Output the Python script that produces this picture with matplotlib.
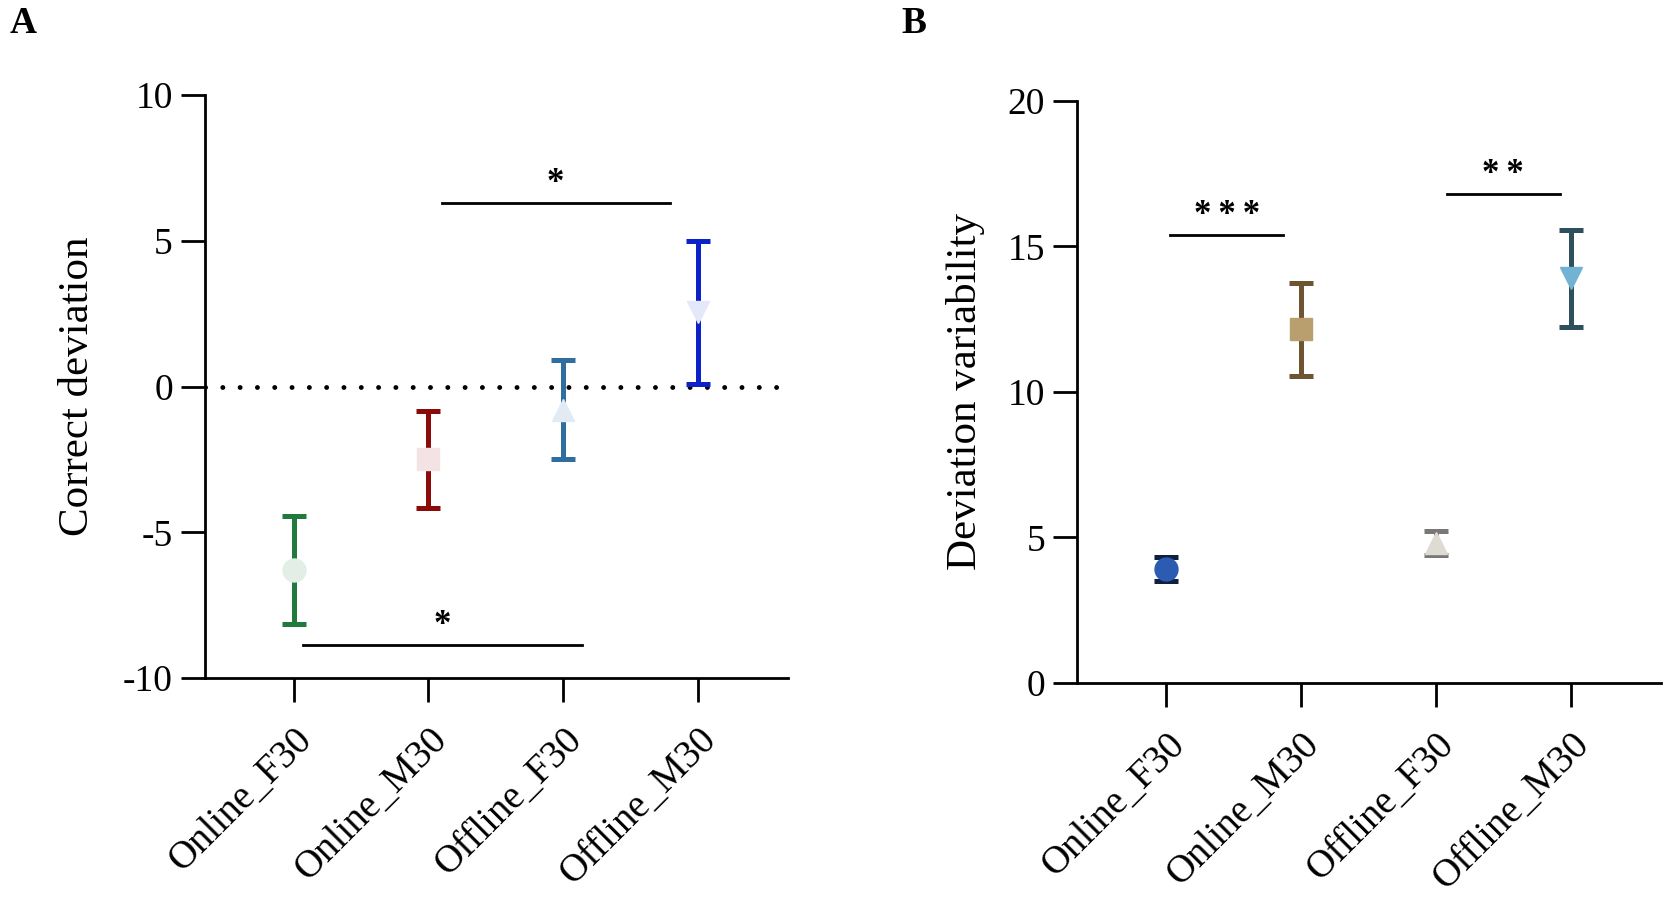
import matplotlib
matplotlib.use('Agg')
from matplotlib import pyplot as plt

plt.rcParams['font.family'] = ['Liberation Serif', 'DejaVu Serif']

groups = ['Online_F30', 'Online_M30', 'Offline_F30', 'Offline_M30']
markers = ['o', 's', '^', 'v']

# panel A: correct deviation (mean, sem)
dev_mean = [-6.3, -2.5, -0.8, 2.55]
dev_err = [1.85, 1.67, 1.7, 2.45]
dev_face = ['#e3efe6', '#f3e3e4', '#e2ebf3', '#e4e8fa']
dev_bar = ['#1f7a3c', '#8c0a0a', '#2f6e9e', '#0a22c8']

# panel B: deviation variability (mean, sem)
var_mean = [3.92, 12.15, 4.82, 13.9]
var_err = [0.4, 1.6, 0.42, 1.67]
var_face = ['#2b5cb2', '#b99f6e', '#dedbd2', '#72b3d3']
var_bar = ['#0f1f3c', '#6e5430', '#787878', '#2e4f5c']

# significance brackets: (x1, x2, y, label)
sig_a = [(1.1, 2.79, 6.3, '*'), (0.07, 2.14, -8.87, '*')]
sig_b = [(0.03, 0.87, 15.4, '*\u2009*\u2009*'), (2.08, 2.92, 16.8, '*\u2009*')]

fig = plt.figure(figsize=(16.66, 9.08), dpi=100)
axA = fig.add_axes([0.123, 0.2533, 0.350, 0.642])
axB = fig.add_axes([0.6465, 0.2478, 0.3505, 0.641])


def draw(ax, means, errs, faces, bars, sigs, ylim, yticks, ylabel):
    xs = list(range(len(groups)))
    for x, m, e, fc, bc, mk in zip(xs, means, errs, faces, bars, markers):
        ax.errorbar(x, m, yerr=e, fmt='none', ecolor=bc, elinewidth=3.6,
                    capsize=8.3, capthick=3.6, zorder=3)
        ax.plot(x, m, marker=mk, markersize=16.5, color=fc, mec=fc,
                linestyle='none', zorder=4)
    for x1, x2, y, lab in sigs:
        ax.plot([x1, x2], [y, y], color='black', lw=2, zorder=2)
        ax.text((x1 + x2) / 2, y + 0.38, lab, ha='center', va='baseline',
                fontsize=25, fontweight='bold')
    ax.set_xlim(-0.66, 3.67)
    ax.set_ylim(*ylim)
    ax.set_yticks(yticks)
    ax.set_xticks(xs)
    ax.set_xticklabels(groups, rotation=45, ha='right', rotation_mode='anchor')
    ax.set_ylabel(ylabel, fontsize=31)
    ax.spines['top'].set_visible(False)
    ax.spines['right'].set_visible(False)
    ax.spines['left'].set_linewidth(2)
    ax.spines['bottom'].set_linewidth(2)
    ax.tick_params(axis='both', direction='out', length=17, width=2,
                   labelsize=27, pad=6)
    ax.tick_params(axis='x', labelsize=28, pad=14)


draw(axA, dev_mean, dev_err, dev_face, dev_bar, sig_a, (-10, 10),
     [-10, -5, 0, 5, 10], 'Correct deviation')
axA.set_yticklabels(['-10', '-5', '0', '5', '10'])
axA.axhline(0, color='black', lw=3.5, linestyle=(0, (0.01, 3.55)),
            dash_capstyle='round', zorder=1)
axA.yaxis.set_label_coords(-0.185, 0.5)

draw(axB, var_mean, var_err, var_face, var_bar, sig_b, (0, 20),
     [0, 5, 10, 15, 20], 'Deviation variability')
axB.yaxis.set_label_coords(-0.158, 0.5)

fig.text(0.006, 0.974, 'A', fontsize=27, fontweight='bold', va='center')
fig.text(0.541, 0.974, 'B', fontsize=27, fontweight='bold', va='center')

plt.savefig('out.png', dpi=100)
